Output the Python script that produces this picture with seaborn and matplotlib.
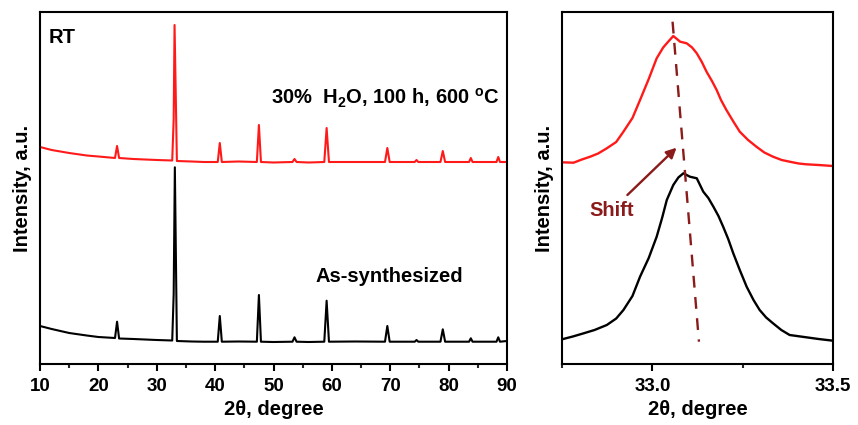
import numpy as np
import pandas as pd
import matplotlib
matplotlib.use("Agg")
import matplotlib.pyplot as plt
from matplotlib.ticker import MultipleLocator, FixedLocator
import seaborn as sns

sns.set_theme(style="white")
plt.rcParams['font.family'] = ['Liberation Sans', 'DejaVu Sans']
plt.rcParams['font.weight'] = 'bold'
plt.rcParams['text.color'] = 'black'
plt.rcParams['axes.labelcolor'] = 'black'
plt.rcParams['mathtext.fontset'] = 'custom'
plt.rcParams['mathtext.rm'] = 'Liberation Sans:bold'
plt.rcParams['mathtext.bf'] = 'Liberation Sans:bold'

# ---------------- data (arbitrary intensity units) -------------
# Full-range pattern, heat-treated sample (30% H2O, 100 h, 600 C)
red_x = [10, 12, 15, 18, 20, 22.85, 23.2, 23.55, 26, 28, 30, 32.65, 32.9, 33.05, 33.45,
         36, 38, 40.45, 40.8, 41.15, 44, 47.15, 47.5, 47.85, 50, 53.25, 53.6, 53.95, 56,
         58.7, 59.1, 59.5, 64, 69.1, 69.5, 69.9, 74.2, 74.5, 74.8, 78.6, 79.0, 79.4,
         83.5, 83.8, 84.1, 88.2, 88.5, 88.8, 90]
red_y = [217, 214, 211, 208.5, 207.5, 206, 218, 206, 205, 204.5, 204, 203.5, 245, 339, 203,
         202.5, 202, 202, 221, 202, 202.5, 202, 239, 202, 201.5, 202, 205, 202, 201.5,
         202, 236, 202, 202, 202, 216, 202, 202, 204, 202, 202, 213, 202,
         202, 206, 202, 202, 207, 202, 202]

# Full-range pattern, as-synthesized sample
blk_x = [10, 12, 15, 18, 20, 22.85, 23.2, 23.55, 26, 28, 30, 32.65, 32.9, 33.1, 33.45,
         36, 38, 40.45, 40.8, 41.15, 44, 47.15, 47.5, 47.85, 50, 53.25, 53.6, 53.95, 56,
         58.7, 59.1, 59.5, 64, 69.1, 69.5, 69.9, 74.2, 74.5, 74.8, 78.6, 79.0, 79.4,
         83.5, 83.8, 84.1, 88.2, 88.5, 88.8, 90]
blk_y = [38, 35, 31, 28.5, 27, 26, 42.3, 25.5, 25, 24.5, 24, 23.5, 70, 196.7, 23,
         22.5, 22.3, 22.3, 48, 22.3, 22.5, 22.3, 69, 22.3, 22, 22.3, 26.7, 22.3, 22,
         22.3, 63.3, 22.3, 22.5, 22.3, 38, 22.3, 22.3, 24, 22.3, 22.3, 34.7, 22.3,
         22.3, 25.7, 22.3, 22.3, 26.7, 22.3, 23]

# Zoom on the main reflection (~33 deg)
zr_x = [32.75, 32.782, 32.805, 32.828, 32.85, 32.874, 32.9, 32.92, 32.945, 32.966,
        32.99, 33.012, 33.03, 33.04, 33.058, 33.077, 33.095, 33.11, 33.123, 33.137,
        33.15, 33.165, 33.178, 33.19, 33.205, 33.225, 33.242, 33.265, 33.288, 33.31,
        33.334, 33.358, 33.38, 33.405, 33.426, 33.46, 33.5]
zr_y = [201.7, 201.3, 204.5, 207.3, 210.5, 215.7, 222, 232.3, 246, 264,
        285, 305.7, 316.5, 320.7, 328, 322.3, 320.7, 316.5, 310.7, 302,
        292.3, 283, 274, 264, 254, 242, 232.3, 224, 217.3, 211.5,
        207.3, 204, 202.3, 200.5, 199.7, 199, 198]
zb_x = [32.75, 32.78, 32.81, 32.84, 32.874, 32.9, 32.92, 32.945, 32.966, 32.99,
        33.012, 33.027, 33.04, 33.058, 33.072, 33.086, 33.104, 33.123, 33.141, 33.155,
        33.169, 33.183, 33.196, 33.21, 33.224, 33.242, 33.261, 33.28, 33.297, 33.315,
        33.334, 33.357, 33.38, 33.4, 33.426, 33.46, 33.5]
zb_y = [24.7, 27.5, 30.7, 34, 39, 45.5, 54, 68, 87.3, 106,
        127.3, 146, 164, 179, 186.5, 190.7, 187.3, 185.7, 172.3, 166,
        157.3, 148, 137.3, 125, 110.7, 94, 77.3, 64, 54, 46.5,
        40.7, 34, 29, 28, 26.7, 25, 23.3]

shift_x = [33.056, 33.129]
shift_y = [342.3, 22.3]

left_ticks = [10, 20, 30, 40, 50, 60, 70, 80, 90]
right_ticks = [33.0, 33.5]

# ---------------- figure ----------------
W, H = 858, 425
fig = plt.figure(figsize=(W / 100, H / 100), dpi=100)
axL = fig.add_axes([40 / W, 61 / H, 467 / W, 352 / H])
axR = fig.add_axes([562 / W, 61 / H, 271 / W, 352 / H])

RED = '#ff1a1a'
DARKRED = '#8b1a1a'
FS_TICK = 13.5
FS_LAB = 14.5

sns.lineplot(x=red_x, y=red_y, ax=axL, color=RED, lw=1.5, estimator=None, sort=False)
sns.lineplot(x=blk_x, y=blk_y, ax=axL, color='black', lw=1.5, estimator=None, sort=False)
sns.lineplot(x=zr_x, y=zr_y, ax=axR, color=RED, lw=1.7, estimator=None, sort=False)
sns.lineplot(x=zb_x, y=zb_y, ax=axR, color='black', lw=1.7, estimator=None, sort=False)
axR.plot(shift_x, shift_y, color=DARKRED, lw=1.7, ls=(0, (5, 4)))
axR.annotate('', xy=(33.067, 216.3), xytext=(32.931, 169),
             arrowprops=dict(arrowstyle='-|>', color=DARKRED, lw=1.7,
                             mutation_scale=15, shrinkA=0, shrinkB=0))
axR.text(32.888, 153, 'Shift', color=DARKRED, fontsize=FS_LAB, fontweight='bold',
         ha='center', va='center')

axL.set_xlim(10, 90)
axL.set_ylim(0, 352)
axR.set_xlim(32.75, 33.5)
axR.set_ylim(0, 352)

axL.xaxis.set_major_locator(FixedLocator(left_ticks))
axL.xaxis.set_minor_locator(MultipleLocator(5))
axR.xaxis.set_major_locator(FixedLocator(right_ticks))
axR.xaxis.set_minor_locator(FixedLocator([32.75, 33.25]))
axR.set_xticklabels(['33.0', '33.5'])

for ax in (axL, axR):
    ax.set_yticks([])
    for s in ax.spines.values():
        s.set_visible(True)
        s.set_color('black')
        s.set_linewidth(1.5)
    ax.tick_params(axis='x', which='major', direction='out', length=5, width=1.5,
                   labelsize=FS_TICK, pad=5, bottom=True, colors='black')
    ax.tick_params(axis='x', which='minor', direction='out', length=3, width=1.5,
                   bottom=True)
    for lbl in ax.get_xticklabels():
        lbl.set_fontweight('bold')
    ax.set_xlabel('2θ, degree', fontsize=FS_LAB, fontweight='bold', labelpad=4)
    ax.set_ylabel('Intensity, a.u.', fontsize=FS_LAB, fontweight='bold', labelpad=6)

axL.text(0.019, 0.928, 'RT', transform=axL.transAxes, fontsize=FS_LAB, fontweight='bold',
         ha='left', va='center')
axL.text(0.985, 0.755, '30%  H$_2$O, 100 h, 600 $^{\\mathrm{o}}$C', transform=axL.transAxes,
         fontsize=FS_LAB, fontweight='bold', ha='right', va='center')
axL.text(0.905, 0.248, 'As-synthesized', transform=axL.transAxes, fontsize=FS_LAB,
         fontweight='bold', ha='right', va='center')

fig.savefig('out.png', dpi=100)
